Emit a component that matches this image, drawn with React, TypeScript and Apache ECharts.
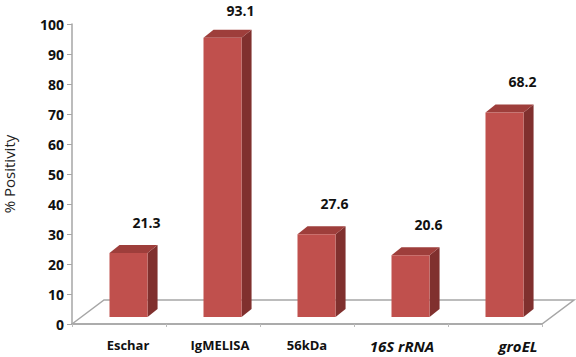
import React, { useEffect, useRef } from "react";
import * as echarts from "echarts";

const categories = ["Eschar", "IgMELISA", "56kDa", "16S rRNA", "groEL"];
const positivity = [21.3, 93.1, 27.6, 20.6, 68.2];
const yMin = 0;
const yMax = 100;
const yInterval = 10;
const yTitle = "% Positivity";

const labelStyleKeys = ["a", "b", "c", "d", "e"];

const FRONT = "#C0504D";
const TOP = "#9E3E3B";
const SIDE = "#80302E";
const FLOOR_STROKE = "#A6A6A6";
const FONT = "'Open Sans', 'Noto Sans', sans-serif";

export default function App() {
  const ref = useRef<HTMLDivElement>(null);
  useEffect(() => {
    if (!ref.current) return;
    const chart = echarts.init(ref.current, null, { renderer: "svg" });
    const base = { fontFamily: FONT, fontWeight: "bold", color: "#111", fontSize: 13 };
    const ital = { ...base, fontStyle: "italic", fontSize: 15 };
    chart.setOption({
      animation: false,
      grid: { left: 72, top: 24, width: 470, height: 300, outerBoundsMode: "none", containLabel: false },
      xAxis: {
        type: "category",
        data: categories,
        axisLine: { show: true, lineStyle: { color: FLOOR_STROKE, width: 1.5 } },
        axisTick: { show: true, length: 3, lineStyle: { color: "#BBBBBB" } },
        axisLabel: {
          margin: 14,
          interval: 0,
          formatter: (v: string, i: number) => `{${labelStyleKeys[i]}|${v}}`,
          rich: {
            a: { ...base, padding: [0, 0, 0, 18] },
            b: { ...base, padding: [0, 0, 0, 14] },
            c: { ...base, padding: [0, 0, 0, 0] },
            d: { ...ital, padding: [0, 0, 0, 2] },
            e: { ...ital, padding: [0, 0, 0, 46] },
          },
        },
        z: 1,
      },
      yAxis: {
        type: "value",
        min: yMin,
        max: yMax,
        interval: yInterval,
        name: yTitle,
        nameLocation: "middle",
        nameGap: 50,
        nameTextStyle: { fontFamily: FONT, fontSize: 15, color: "#222", padding: [0, 0, 6, 0] },
        splitLine: { show: false },
        axisLine: { show: true, lineStyle: { color: "#A6A6A6", width: 1.5 } },
        axisTick: { show: true, length: 5, lineStyle: { color: "#A6A6A6" } },
        axisLabel: { fontFamily: FONT, fontWeight: "bold", fontSize: 14, color: "#111", margin: 8 },
      },
      series: [
        {
          type: "custom",
          clip: false,
          z: 1,
          silent: true,
          data: [[0, 0]],
          renderItem: (params: any, api: any) => {
            const bw = api.size([1, 0])[0];
            const p0 = api.coord([0, 0]);
            const p1 = api.coord([categories.length - 1, 0]);
            const l = p0[0] - bw / 2;
            const r = p1[0] + bw / 2;
            const y = p0[1];
            const dx = 32;
            const dy = -24;
            return {
              type: "polygon",
              shape: { points: [[l, y], [l + dx, y + dy], [r + dx, y + dy], [r, y]] },
              style: { fill: "#FFFFFF", stroke: FLOOR_STROKE, lineWidth: 1.5 },
            };
          },
        },
        {
          type: "custom",
          clip: false,
          z: 3,
          data: positivity.map((v, i) => [i, v]),
          renderItem: (params: any, api: any) => {
            const i = api.value(0);
            const v = api.value(1);
            const bw = api.size([1, 0])[0];
            const w = bw * 0.405;
            const pb = api.coord([i, 0]);
            const pt = api.coord([i, v]);
            const oy = -7;
            const dx = 10;
            const dy = -8;
            const x0 = pb[0] - 9.5;
            const x1 = x0 + w;
            const yb = pb[1] + oy;
            const yt = pt[1] + oy;
            return {
              type: "group",
              children: [
                {
                  type: "polygon",
                  shape: { points: [[x1, yb], [x1 + dx, yb + dy], [x1 + dx, yt + dy], [x1, yt]] },
                  style: { fill: SIDE },
                },
                {
                  type: "polygon",
                  shape: { points: [[x0, yt], [x0 + dx, yt + dy], [x1 + dx, yt + dy], [x1, yt]] },
                  style: { fill: TOP },
                },
                {
                  type: "rect",
                  shape: { x: x0, y: yt, width: w, height: yb - yt },
                  style: { fill: FRONT },
                },
                {
                  type: "text",
                  x: x1 - 1,
                  y: Math.max(yt - 31, 10),
                  style: {
                    text: String(v),
                    align: "center",
                    verticalAlign: "middle",
                    fontFamily: FONT,
                    fontWeight: "bold",
                    fontSize: 14,
                    fill: "#111",
                  },
                },
              ],
            };
          },
        },
      ],
    });
    return () => chart.dispose();
  }, []);
  return (
    <div
      ref={ref}
      style={{ position: "fixed", left: 0, top: 0, width: 576, height: 357, background: "#fff" }}
    />
  );
}
